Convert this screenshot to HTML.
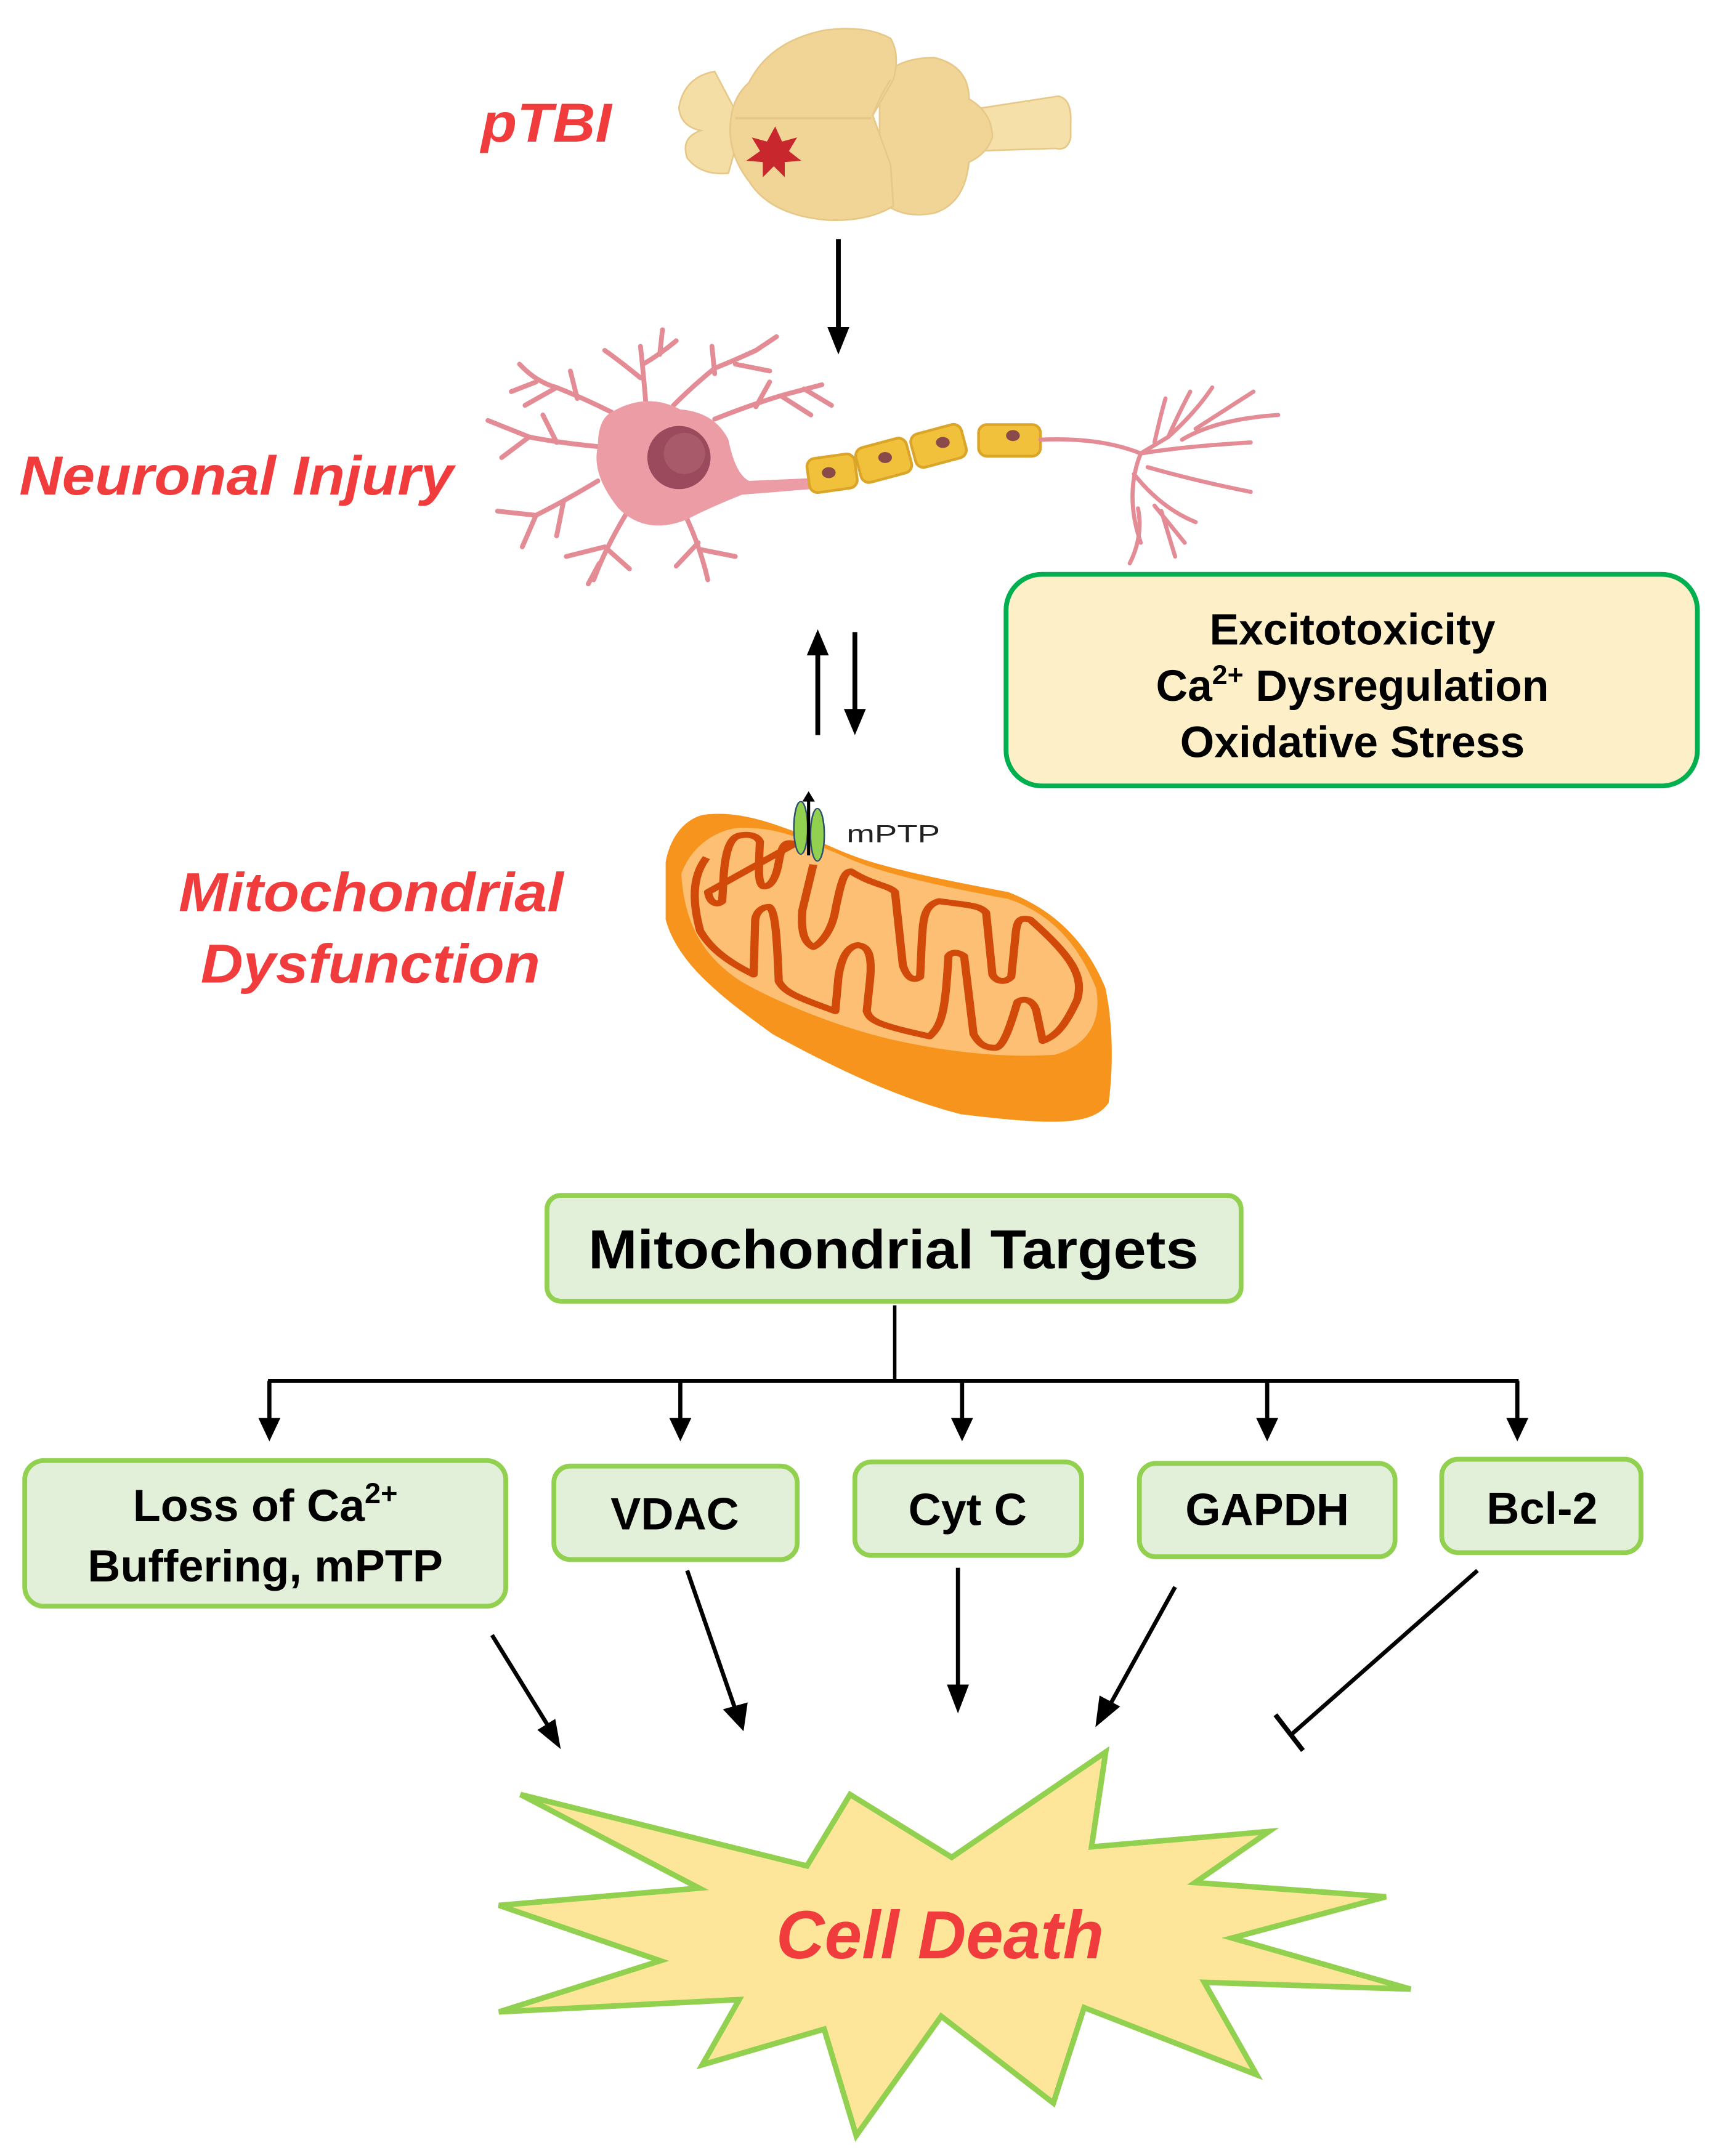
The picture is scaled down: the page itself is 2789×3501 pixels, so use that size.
<!DOCTYPE html>
<html><head><meta charset="utf-8"><style>
html,body{margin:0;padding:0;background:#fff;}
svg{display:block;}
text{font-family:"Liberation Sans",Arial,sans-serif;font-weight:bold;}
</style></head><body>
<svg width="2789" height="3501" viewBox="0 0 2789 3501" xmlns="http://www.w3.org/2000/svg">
<g transform="scale(2.2312)">
<!-- pTBI -->
<text x="350" y="103" font-size="40" font-style="italic" fill="#f03c3c" textLength="95" lengthAdjust="spacingAndGlyphs">pTBI</text>
<!-- brain -->
<g stroke="#e6c888" stroke-width="1.2" fill="#f0d596">
<path d="M705,80 L770,70 Q780,72 779,90 L779,100 Q777,110 768,108 L705,110 Z" fill="#f5e0aa"/>
<path d="M520,52 Q498,56 494,78 Q495,92 510,95 Q495,100 500,115 Q510,128 530,126 L540,90 Z" fill="#f4dea6"/>
<path d="M640,60 Q650,42 680,42 Q705,48 705,72 Q722,82 722,100 Q718,112 705,118 Q702,148 680,155 Q655,160 640,145 Z"/>
<path d="M545,60 Q560,30 600,22 Q630,18 648,28 Q655,40 650,58 L635,84 L648,120 L650,150 Q630,162 600,160 Q560,156 545,132 Q528,110 532,85 Q534,70 545,60 Z"/>
<path d="M535,86 L634,86" fill="none" stroke-width="1.8"/>
<path d="M635,84 Q640,70 648,58" fill="none"/>
</g>
<polygon points="564,92 569,103 580,100 574,110 583,117 571,118 571,129 563,121 555,129 555,118 543,117 553,110 547,100 558,103" fill="#c8282d"/>
<!-- arrow down -->
<line x1="610" y1="174" x2="610" y2="240" stroke="#000" stroke-width="3.5"/>
<polygon points="602,238 618,238 610,258" fill="#000"/>
<!-- Neuronal Injury -->
<text x="14" y="360" font-size="40" font-style="italic" fill="#f03c3c" textLength="316" lengthAdjust="spacingAndGlyphs">Neuronal Injury</text>
<!-- neuron -->
<g stroke="#e48c96" stroke-width="3.5" fill="none" stroke-linecap="round">
<path d="M470,295 Q468,270 466,252 M466,275 Q450,262 440,255 M468,265 Q480,258 492,248 M480,258 L482,240"/>
<path d="M490,295 Q505,280 520,268 Q535,262 550,255 M520,272 L518,252 M535,265 L560,270 M550,255 L565,245"/>
<path d="M445,300 Q425,290 405,282 Q390,278 378,265 M405,282 L382,295 M390,278 L372,285 M420,290 L415,270"/>
<path d="M435,325 Q405,322 385,318 L355,306 M385,318 L365,333 M405,322 L395,302"/>
<path d="M435,350 Q410,365 390,375 L362,372 M390,375 L380,398 M410,365 L405,390"/>
<path d="M455,375 Q440,400 432,422 M440,398 L412,405 M440,398 L458,414 M436,410 L428,425"/>
<path d="M500,378 Q510,400 515,422 M510,400 L535,405 M508,395 L492,412"/>
<path d="M520,305 Q545,295 568,288 L598,280 M568,288 L590,302 M550,296 L560,278 M585,283 L605,295"/>
</g>
<path d="M445,300 Q470,285 495,298 Q520,300 530,320 Q535,345 545,350 L590,348 L590,356 L540,360 Q515,370 500,378 Q470,390 450,370 Q430,345 435,325 Q435,305 445,300 Z" fill="#ec9ca4"/>
<circle cx="494" cy="333" r="23" fill="#9a4a5c"/>
<circle cx="498" cy="330" r="15" fill="#a85a6a"/>
<g fill="#f2c13c" stroke="#dba52a" stroke-width="2">
<rect x="588" y="332" width="35" height="25" rx="6" transform="rotate(-8 605 345)"/>
<rect x="624" y="322" width="38" height="26" rx="6" transform="rotate(-15 643 335)"/>
<rect x="664" y="312" width="38" height="25" rx="6" transform="rotate(-15 683 325)"/>
<rect x="712" y="309" width="45" height="23" rx="6"/>
</g>
<g fill="#8a4a4a"><ellipse cx="603" cy="344" rx="5" ry="4"/><ellipse cx="644" cy="333" rx="5" ry="4"/><ellipse cx="686" cy="322" rx="5" ry="4"/><ellipse cx="737" cy="317" rx="5" ry="4"/></g>
<g stroke="#e48c96" stroke-width="3" fill="none" stroke-linecap="round">
<path d="M757,320 Q800,318 830,330 L850,318 Q870,300 882,282"/>
<path d="M830,330 Q860,325 910,322 M860,320 Q885,305 930,302 M870,312 L912,285"/>
<path d="M830,330 Q818,360 830,395 M825,345 Q845,370 870,380 M835,340 Q870,350 910,358"/>
<path d="M850,318 Q858,300 866,285 M840,322 Q845,300 848,290"/>
<path d="M828,370 Q832,390 822,410 M840,368 L862,395 M845,372 L855,405"/>
</g>
<!-- bidirectional arrows -->
<line x1="595" y1="535" x2="595" y2="475" stroke="#000" stroke-width="3.5"/>
<polygon points="587,477 603,477 595,458" fill="#000"/>
<line x1="622" y1="460" x2="622" y2="518" stroke="#000" stroke-width="3.5"/>
<polygon points="614,516 630,516 622,535" fill="#000"/>
<!-- side box -->
<rect x="732" y="418" width="503" height="154" rx="26" fill="#fdf0c8" stroke="#00b050" stroke-width="3.5"/>
<text x="984" y="469" font-size="32" text-anchor="middle">Excitotoxicity</text>
<text x="984" y="510" font-size="32" text-anchor="middle">Ca<tspan font-size="20" dy="-12">2+</tspan><tspan dy="12"> Dysregulation</tspan></text>
<text x="984" y="551" font-size="32" text-anchor="middle">Oxidative Stress</text>
<!-- Mitochondrial Dysfunction -->
<text x="130" y="663" font-size="40" font-style="italic" fill="#f03c3c" textLength="280" lengthAdjust="spacingAndGlyphs">Mitochondrial</text>
<text x="146" y="715" font-size="40" font-style="italic" fill="#f03c3c" textLength="247" lengthAdjust="spacingAndGlyphs">Dysfunction</text>
<!-- mitochondrion -->
<g transform="translate(470.6,569.2) scale(0.2286,0.1667)">
<path d="M60,350 C80,200 150,140 200,140 C300,130 400,170 600,290 C700,350 800,390 1150,480 C1300,560 1400,700 1460,900 C1490,1100 1480,1300 1470,1400 C1420,1500 1300,1500 1000,1450 C800,1380 600,1250 400,1100 C250,950 100,800 60,600 Z" fill="#f7941d"/>
<path d="M110,400 C150,250 250,200 300,200 C400,200 450,220 620,320 C700,370 800,420 1150,510 C1300,580 1380,730 1430,900 C1450,1050 1400,1150 1300,1190 C1100,1210 900,1160 800,1130 C600,1070 400,950 300,870 C200,780 120,650 110,400 Z" fill="#fdbf74"/>
<path d="M190,330 C150,400 140,500 170,650 C200,720 250,780 340,840 L345,600 C350,560 370,545 390,545 C410,560 415,700 420,870 C440,920 480,940 600,1000 L610,850 C620,760 640,720 670,712 C700,715 720,740 710,870 L700,1000 C710,1040 730,1060 900,1110 C940,1060 950,1000 960,760 C970,740 990,740 1010,760 L1040,1100 C1060,1150 1080,1160 1110,1160 C1140,1160 1170,1000 1180,960 C1200,940 1230,950 1240,1000 L1260,1130 C1300,1110 1330,1070 1370,950 C1390,850 1360,770 1220,600 C1190,590 1180,600 1175,650 L1160,850 C1140,880 1110,870 1100,840 L1080,570 C1060,540 1040,540 930,520 C880,540 880,600 875,700 L870,850 C850,870 830,860 815,800 L790,480 C770,450 720,450 650,390 C630,390 620,420 600,560 C590,640 560,700 530,720 C500,700 490,650 495,560 L530,360 M470,270 C440,260 430,270 420,350 C410,430 390,460 370,455 C355,440 355,400 360,260 C350,230 320,225 290,235 C260,250 250,320 245,400 L240,520 C225,540 200,530 195,480 Z" fill="none" stroke="#d14a0a" stroke-width="26" stroke-linejoin="round"/>
<ellipse cx="490" cy="200" rx="22" ry="115" fill="#92d050" stroke="#2f4f6f" stroke-width="5"/>
<ellipse cx="543" cy="230" rx="22" ry="115" fill="#92d050" stroke="#2f4f6f" stroke-width="5"/>
<line x1="515" y1="320" x2="515" y2="80" stroke="#000" stroke-width="10"/>
<polygon points="495,85 535,85 515,40" fill="#000"/>
</g>
<text x="616" y="613" font-size="18" style="font-weight:normal" fill="#222" textLength="68" lengthAdjust="spacingAndGlyphs">mPTP</text>
<!-- Mitochondrial Targets -->
<rect x="398" y="870" width="505" height="77" rx="10" fill="#e2efd9" stroke="#92d050" stroke-width="3.5"/>
<text x="428" y="923" font-size="40" textLength="444" lengthAdjust="spacingAndGlyphs">Mitochondrial Targets</text>
<line x1="651" y1="950" x2="651" y2="1006" stroke="#000" stroke-width="2.5"/>
<line x1="195" y1="1005" x2="1105" y2="1005" stroke="#000" stroke-width="3"/>
<g stroke="#000" stroke-width="3">
<line x1="196" y1="1005" x2="196" y2="1035"/><line x1="495" y1="1005" x2="495" y2="1035"/><line x1="700" y1="1005" x2="700" y2="1035"/><line x1="922" y1="1005" x2="922" y2="1035"/><line x1="1104" y1="1005" x2="1104" y2="1035"/>
</g>
<g fill="#000">
<polygon points="188,1032 204,1032 196,1049"/><polygon points="487,1032 503,1032 495,1049"/><polygon points="692,1032 708,1032 700,1049"/><polygon points="914,1032 930,1032 922,1049"/><polygon points="1096,1032 1112,1032 1104,1049"/>
</g>
<!-- target boxes -->
<g fill="#e2efd9" stroke="#92d050" stroke-width="3.5">
<rect x="18" y="1063" width="350" height="106" rx="14"/>
<rect x="403" y="1067" width="177" height="68" rx="12"/>
<rect x="622" y="1064" width="165" height="68" rx="12"/>
<rect x="829" y="1065" width="186" height="68" rx="12"/>
<rect x="1049" y="1062" width="145" height="68" rx="12"/>
</g>
<g font-size="33" text-anchor="middle">
<text x="193" y="1107">Loss of Ca<tspan font-size="21" dy="-13">2+</tspan></text>
<text x="193" y="1151">Buffering, mPTP</text>
<text x="491" y="1113">VDAC</text>
<text x="704" y="1110">Cyt C</text>
<text x="922" y="1110">GAPDH</text>
<text x="1122" y="1109">Bcl-2</text>
</g>
<!-- arrows to cell death -->
<g stroke="#000" stroke-width="3">
<line x1="358" y1="1190" x2="400" y2="1258"/>
<line x1="500" y1="1143" x2="535" y2="1244"/>
<line x1="697" y1="1141" x2="697" y2="1228"/>
<line x1="855" y1="1155" x2="808" y2="1240"/>
<line x1="1075" y1="1143" x2="940" y2="1262"/>
<line x1="928" y1="1248" x2="948" y2="1274" stroke-width="3.5"/>
</g>
<g fill="#000">
<polygon points="404,1251 391,1259 408,1273"/>
<polygon points="526,1244 544,1239 541,1260"/>
<polygon points="689,1226 705,1226 697,1247"/>
<polygon points="800,1234 815,1242 797,1257"/>
</g>
</g>
<!-- Cell Death starburst -->
<polygon points="845,2914 1310,3030 1380,2914 1545,3016 1795,2845 1772,2999 2060,2974 1940,3057 2250,3080 2000,3147 2290,3230 1955,3219 2040,3369 1760,3260 1710,3415 1528,3274 1390,3468 1338,3295 1140,3353 1200,3247 810,3267 1072,3184 810,3094 1135,3066" fill="#fde699" stroke="#92d050" stroke-width="9"/>
<text x="1260" y="3180" font-size="110" font-style="italic" fill="#f03c3c" textLength="532" lengthAdjust="spacingAndGlyphs">Cell Death</text>
</svg>
</body></html>
